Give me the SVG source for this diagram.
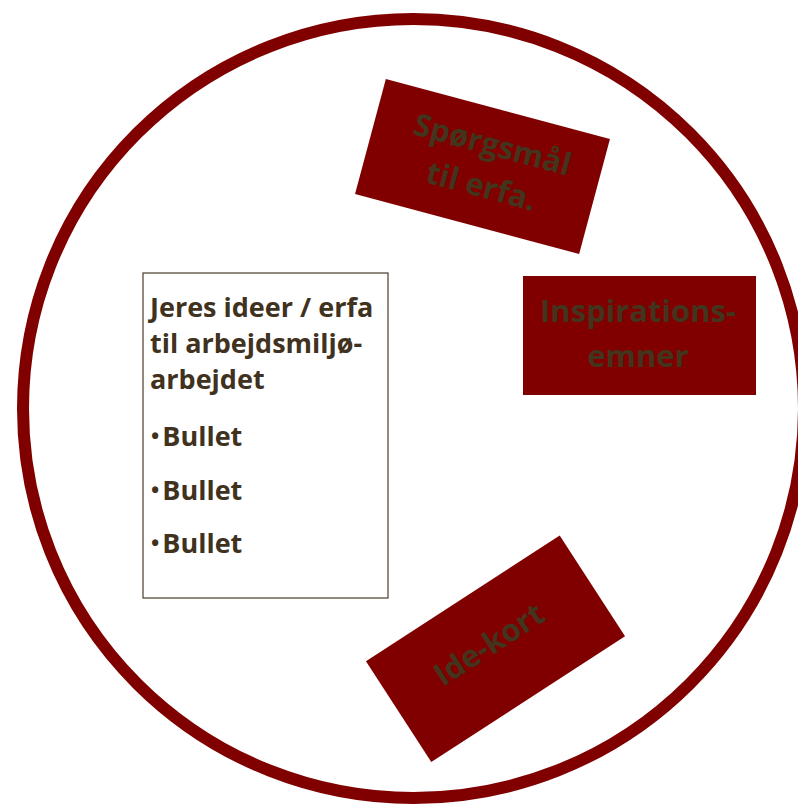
<svg xmlns="http://www.w3.org/2000/svg" width="798" height="804" viewBox="0 0 798 804">
<style>
.card{fill:#800000;}
.ct{font-family:"Open Sans",Lato,"Liberation Sans",sans-serif;font-weight:700;font-size:31px;fill:#43341e;text-anchor:middle;font-variant-ligatures:none;}
.bt{font-family:"Open Sans",Lato,"Liberation Sans",sans-serif;font-weight:700;font-size:27px;fill:#40321e;font-variant-ligatures:none;}
.dot{font-size:22px;}
</style>
<rect width="798" height="804" fill="#ffffff"/>
<g id="ring"><ellipse cx="413.5" cy="408.5" rx="390.5" ry="389.5" fill="none" stroke="#800000" stroke-width="12"/></g>
<g id="connectors"></g>
<g id="spoergsmaal" transform="translate(482.5,166.5) rotate(15)">
<rect class="card" x="-116" y="-59.5" width="232" height="119"/>
<text class="ct" x="4" y="-13">Spørgsmål</text>
<text class="ct" x="4" y="30">til erfa.</text>
</g>
<g id="inspiration">
<rect class="card" x="523" y="276" width="233" height="119"/>
<text class="ct" x="638" y="322">Inspirations-</text>
<text class="ct" x="638" y="367">emner</text>
</g>
<g id="idekort" transform="translate(495.5,648.75) rotate(-33)">
<rect class="card" x="-115.5" y="-60" width="231" height="120"/>
<text class="ct" x="-3" y="3.5">Ide-kort</text>
</g>
<g id="ideer">
<rect x="143" y="273" width="245" height="325" fill="#ffffff" stroke="#4a3d28" stroke-width="1.2"/>
<text class="bt" x="150" y="317">Jeres ideer / erfa</text>
<text class="bt" x="150" y="353">til arbejdsmiljø-</text>
<text class="bt" x="150" y="389">arbejdet</text>
<text class="bt" x="151" y="446"><tspan class="dot" dy="-2">•</tspan><tspan dx="3" dy="2">Bullet</tspan></text>
<text class="bt" x="151" y="500"><tspan class="dot" dy="-2">•</tspan><tspan dx="3" dy="2">Bullet</tspan></text>
<text class="bt" x="151" y="553"><tspan class="dot" dy="-2">•</tspan><tspan dx="3" dy="2">Bullet</tspan></text>
</g>
</svg>
